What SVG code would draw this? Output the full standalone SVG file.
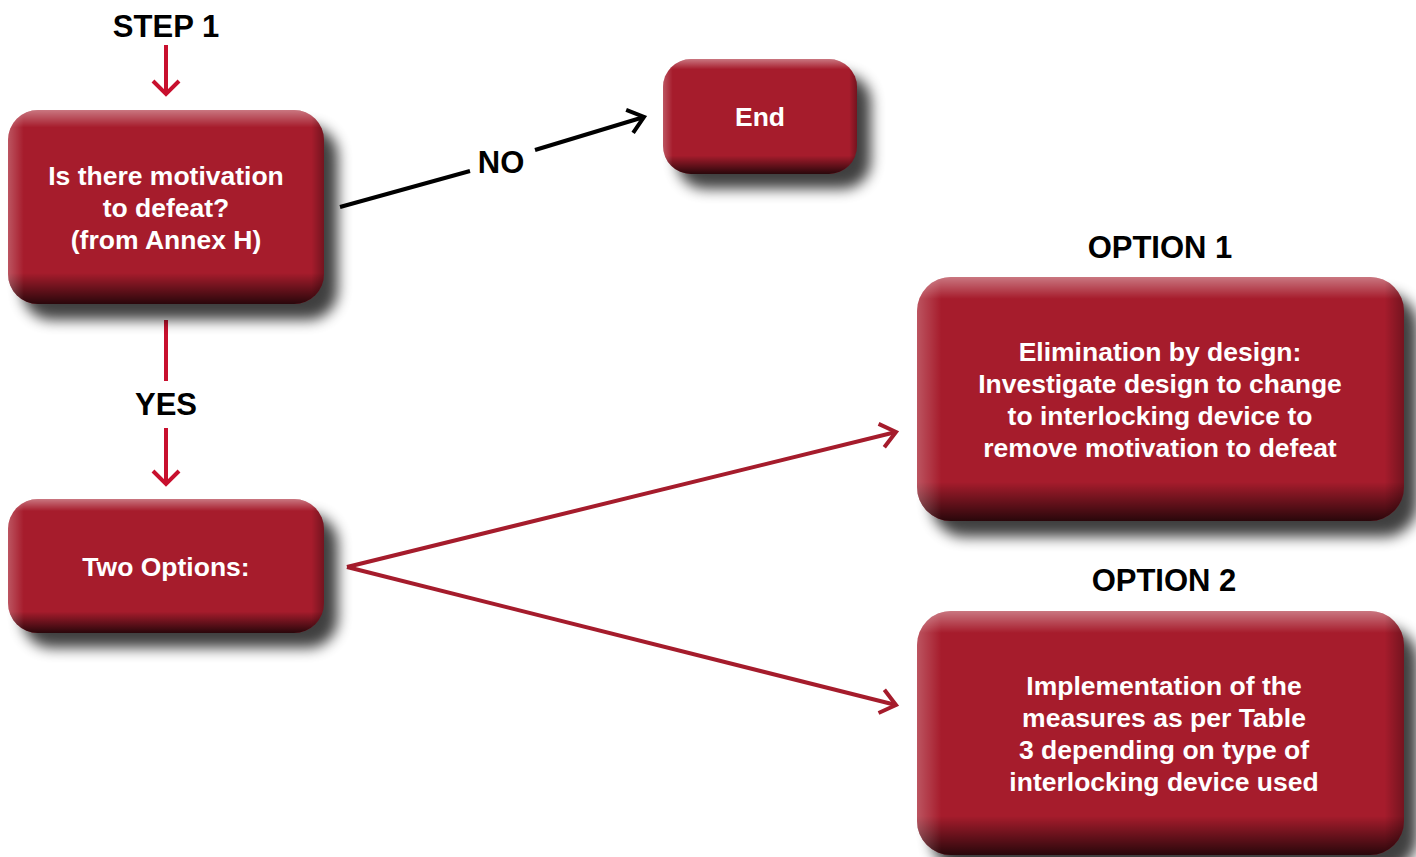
<svg xmlns="http://www.w3.org/2000/svg" width="1416" height="857" viewBox="0 0 1416 857">
<style>
.lbl{font-family:"Liberation Sans",Arial,sans-serif;font-weight:bold;font-size:31px;fill:#000;text-anchor:middle}
.bt{font-family:"Liberation Sans",Arial,sans-serif;font-weight:bold;font-size:26.5px;fill:#fff;text-anchor:middle}
.base{fill:#a61c2c}
.vg{fill:url(#vg)}
.hg{fill:url(#hg)}
.sh{fill:#000;opacity:0.75;filter:url(#blur)}
.red{stroke:#c8102e;stroke-width:4;fill:none}
.dred{stroke:#a51c2c;stroke-width:4;fill:none}
.blk{stroke:#000;stroke-width:4;fill:none}
</style>
<defs>
<filter id="blur" x="-20%" y="-20%" width="140%" height="140%"><feGaussianBlur stdDeviation="7"/></filter>
<linearGradient id="vg" x1="0" y1="0" x2="0" y2="1">
<stop offset="0" stop-color="#fff" stop-opacity="0.4"/>
<stop offset="0.09" stop-color="#fff" stop-opacity="0"/>
<stop offset="0.84" stop-color="#000" stop-opacity="0"/>
<stop offset="1" stop-color="#000" stop-opacity="0.75"/>
</linearGradient>
<linearGradient id="hg" x1="0" y1="0" x2="1" y2="0">
<stop offset="0" stop-color="#fff" stop-opacity="0.25"/>
<stop offset="0.05" stop-color="#fff" stop-opacity="0"/>
<stop offset="0.96" stop-color="#000" stop-opacity="0"/>
<stop offset="1" stop-color="#000" stop-opacity="0.3"/>
</linearGradient>
<marker id="mr" markerUnits="userSpaceOnUse" viewBox="-18 -18 22 36" refX="0" refY="0" markerWidth="22" markerHeight="36" orient="auto" overflow="visible">
<path d="M-13,-13 L0,0 L-13,13" fill="none" stroke="#c8102e" stroke-width="4"/>
</marker>
<marker id="md" markerUnits="userSpaceOnUse" viewBox="-18 -18 22 36" refX="0" refY="0" markerWidth="22" markerHeight="36" orient="auto" overflow="visible">
<path d="M-15,-12 L0,0 L-15,12" fill="none" stroke="#a51c2c" stroke-width="4"/>
</marker>
<marker id="mb" markerUnits="userSpaceOnUse" viewBox="-18 -18 22 36" refX="0" refY="0" markerWidth="22" markerHeight="36" orient="auto" overflow="visible">
<path d="M-15,-12 L0,0 L-15,12" fill="none" stroke="#000" stroke-width="4"/>
</marker>
</defs>
<rect width="1416" height="857" fill="#fff"/>

<g id="labels">
<text class="lbl" x="166" y="37">STEP 1</text>
<text class="lbl" x="501" y="173">NO</text>
<text class="lbl" x="166" y="415">YES</text>
<text class="lbl" x="1160" y="258">OPTION 1</text>
<text class="lbl" x="1164" y="591">OPTION 2</text>
</g>

<g id="connectors">
<line class="red" x1="166" y1="45" x2="166" y2="94" marker-end="url(#mr)"/>
<line class="red" x1="166" y1="320" x2="166" y2="381"/>
<line class="red" x1="166" y1="428" x2="166" y2="484" marker-end="url(#mr)"/>
<line class="blk" x1="340" y1="207" x2="470" y2="171"/>
<line class="blk" x1="535" y1="150" x2="644" y2="117" marker-end="url(#mb)"/>
<line class="dred" x1="347" y1="567" x2="896" y2="432" marker-end="url(#md)"/>
<line class="dred" x1="347" y1="567" x2="896" y2="705" marker-end="url(#md)"/>
</g>

<g id="n-q">
<rect class="sh" x="22" y="126" width="316" height="194" rx="30"/>
<rect class="base" x="8" y="110" width="316" height="194" rx="30"/>
<rect class="vg" x="8" y="110" width="316" height="194" rx="30"/>
<rect class="hg" x="8" y="110" width="316" height="194" rx="30"/>
<text class="bt" x="166" y="185">Is there motivation</text>
<text class="bt" x="166" y="217">to defeat?</text>
<text class="bt" x="166" y="249">(from Annex H)</text>
</g>

<g id="n-end">
<rect class="sh" x="677" y="74" width="194" height="115" rx="28"/>
<rect class="base" x="663" y="59" width="194" height="115" rx="28"/>
<rect class="vg" x="663" y="59" width="194" height="115" rx="28"/>
<rect class="hg" x="663" y="59" width="194" height="115" rx="28"/>
<text class="bt" x="760" y="126">End</text>
</g>

<g id="n-two">
<rect class="sh" x="22" y="514" width="316" height="134" rx="30"/>
<rect class="base" x="8" y="499" width="316" height="134" rx="30"/>
<rect class="vg" x="8" y="499" width="316" height="134" rx="30"/>
<rect class="hg" x="8" y="499" width="316" height="134" rx="30"/>
<text class="bt" x="166" y="576">Two Options:</text>
</g>

<g id="n-opt1">
<rect class="sh" x="931" y="293" width="487" height="244" rx="34"/>
<rect class="base" x="917" y="277" width="487" height="244" rx="34"/>
<rect class="vg" x="917" y="277" width="487" height="244" rx="34"/>
<rect class="hg" x="917" y="277" width="487" height="244" rx="34"/>
<text class="bt" x="1160" y="361">Elimination by design:</text>
<text class="bt" x="1160" y="393">Investigate design to change</text>
<text class="bt" x="1160" y="425">to interlocking device to</text>
<text class="bt" x="1160" y="457">remove motivation to defeat</text>
</g>

<g id="n-opt2">
<rect class="sh" x="931" y="627" width="487" height="244" rx="34"/>
<rect class="base" x="917" y="611" width="487" height="244" rx="34"/>
<rect class="vg" x="917" y="611" width="487" height="244" rx="34"/>
<rect class="hg" x="917" y="611" width="487" height="244" rx="34"/>
<text class="bt" x="1164" y="695">Implementation of the</text>
<text class="bt" x="1164" y="727">measures as per Table</text>
<text class="bt" x="1164" y="759">3 depending on type of</text>
<text class="bt" x="1164" y="791">interlocking device used</text>
</g>
</svg>
